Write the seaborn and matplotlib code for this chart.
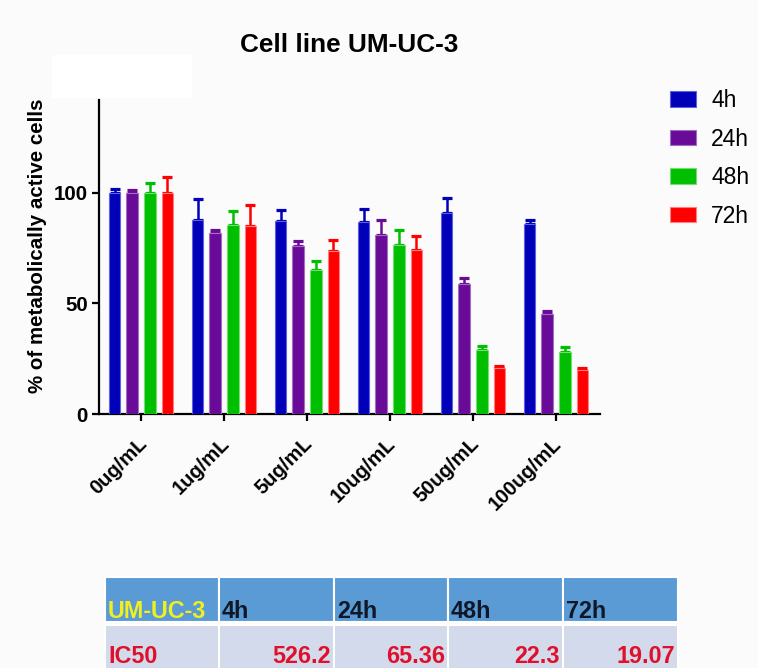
import matplotlib
matplotlib.use("Agg")
import matplotlib.pyplot as plt
import matplotlib.transforms as mtransforms
from matplotlib.patches import Rectangle
import seaborn as sns
import pandas as pd

# Concentrations and incubation times
concentrations = ["0ug/mL", "1ug/mL", "5ug/mL", "10ug/mL", "50ug/mL", "100ug/mL"]
hours = ["4h", "24h", "48h", "72h"]

# Mean % of metabolically active cells per time point
mean_4h = [100, 87.9, 87.2, 86.8, 90.8, 86.1]
mean_24h = [100, 81.9, 75.9, 81.0, 58.7, 45.1]
mean_48h = [100, 85.4, 65.1, 76.3, 28.8, 27.9]
mean_72h = [100, 85.0, 73.6, 74.0, 20.9, 20.0]

# Standard deviations (upper error bars only)
sd_4h = [1.8, 9.2, 5.0, 6.0, 6.8, 1.6]
sd_24h = [1.5, 1.1, 2.5, 6.7, 2.7, 1.7]
sd_48h = [4.6, 6.4, 4.1, 6.7, 2.0, 2.6]
sd_72h = [7.4, 9.3, 5.1, 6.3, 0.9, 0.6]

# IC50 summary table
table_header = ["UM-UC-3", "4h", "24h", "48h", "72h"]
ic50_label = "IC50"
ic50_values = ["526.2", "65.36", "22.3", "19.07"]

colors = ["#0000B8", "#6A0A98", "#00BE00", "#FF0000"]
edge_colors = ["#6060E0", "#A070C0", "#70E070", "#FF8080"]

means = [mean_4h, mean_24h, mean_48h, mean_72h]
sds = [sd_4h, sd_24h, sd_48h, sd_72h]

rows = []
for h, m in zip(hours, means):
    for c, v in zip(concentrations, m):
        rows.append({"conc": c, "time": h, "value": v})
df = pd.DataFrame(rows)

sns.set_style("ticks")
plt.rcParams["font.family"] = ["Liberation Sans", "DejaVu Sans"]
plt.rcParams["text.color"] = "black"
plt.rcParams["axes.labelcolor"] = "black"
plt.rcParams["xtick.color"] = "black"
plt.rcParams["ytick.color"] = "black"
plt.rcParams["axes.edgecolor"] = "black"

fig = plt.figure(figsize=(7.58, 6.68), dpi=100, facecolor="#fbfbfb")
fig.patches.append(Rectangle((52 / 758, 1 - 98 / 668), 140 / 758, 43 / 668,
                             transform=fig.transFigure, facecolor="white",
                             edgecolor="none", zorder=0))

ax = fig.add_axes([99 / 758, 1 - 414 / 668, 501 / 758, 314 / 668])
ax.set_facecolor("none")

sns.barplot(data=df, x="conc", y="value", hue="time", order=concentrations,
            hue_order=hours, palette=colors, errorbar=None, width=0.85,
            gap=0.35, saturation=1, ax=ax, zorder=3)

bar_containers = list(ax.containers)
for container, sd, col, ecol in zip(bar_containers, sds, colors, edge_colors):
    for bar, s in zip(container, sd):
        bar.set_edgecolor(ecol)
        bar.set_linewidth(0.8)
        x = bar.get_x() + bar.get_width() / 2
        h = bar.get_height()
        ax.errorbar(x, h, yerr=[[0], [s]], fmt="none", ecolor=col,
                    elinewidth=1.8, capsize=3.6, capthick=2.3, zorder=2)

ax.set_xlim(-0.506, 5.53)
ax.set_ylim(0, 142)
ax.set_yticks([0, 50, 100])
ax.set_xlabel("")
ax.set_ylabel("% of metabolically active cells", fontsize=14.8,
              fontweight="bold")
ax.yaxis.set_label_coords(-0.104, 0.535)
sns.despine(ax=ax)
for sp in ["left", "bottom"]:
    ax.spines[sp].set_linewidth(1.6)
ax.tick_params(axis="both", direction="out", width=1.6, length=5)
ax.tick_params(axis="y", pad=3)
for lbl in ax.get_yticklabels():
    lbl.set_fontsize(14.8)
    lbl.set_fontweight("bold")
ax.set_xticks(range(len(concentrations)))
ax.set_xticklabels(concentrations, rotation=45, ha="right",
                   rotation_mode="anchor", fontsize=14.5, fontweight="bold")
shift = mtransforms.ScaledTranslation(-4 / 100, -8 / 100, fig.dpi_scale_trans)
for lbl in ax.get_xticklabels():
    lbl.set_transform(lbl.get_transform() + shift)

ax.set_title("Cell line UM-UC-3", fontsize=18.8, fontweight="bold", pad=34.5)

leg = ax.get_legend()
if leg is not None:
    leg.remove()
handles = [c.patches[0] for c in bar_containers]
fig.legend(handles, hours, loc="upper left",
           bbox_to_anchor=(670 / 758, 1 - 89 / 668),
           bbox_transform=fig.transFigure, frameon=False, fontsize=16.5,
           handlelength=1.15, handleheight=0.66, handletextpad=0.65,
           labelspacing=0.68, borderpad=0, borderaxespad=0)

# IC50 table
tax = fig.add_axes([0, 0, 1, 100 / 668])
tax.set_xlim(0, 758)
tax.set_ylim(668, 568)
tax.axis("off")
col_edges = [105, 219, 334, 448, 563, 678]
header_top, header_bot = 577, 622
row_top, row_bot = 625, 680
for i in range(len(table_header)):
    x0, x1 = col_edges[i], col_edges[i + 1]
    tax.add_patch(Rectangle((x0, header_top), x1 - x0, header_bot - header_top,
                            facecolor="#5B9BD5", edgecolor="white", lw=1.5))
    tax.add_patch(Rectangle((x0, row_top), x1 - x0, row_bot - row_top,
                            facecolor="#D2DAEB", edgecolor="white", lw=1.5))
    tax.text(x0 + 3, 618, table_header[i], ha="left", va="baseline",
             fontsize=16.8, fontweight="bold",
             color="#F0F020" if i == 0 else "#101828")
tax.text(col_edges[0] + 3, 668, ic50_label, ha="left", va="bottom",
         fontsize=16.8, fontweight="bold", color="#E0102A")
for i, v in enumerate(ic50_values):
    tax.text(col_edges[i + 2] - 3, 668, v, ha="right", va="bottom",
             fontsize=16.8, fontweight="bold", color="#E0102A")

fig.savefig("out.png", dpi=100, facecolor=fig.get_facecolor())
